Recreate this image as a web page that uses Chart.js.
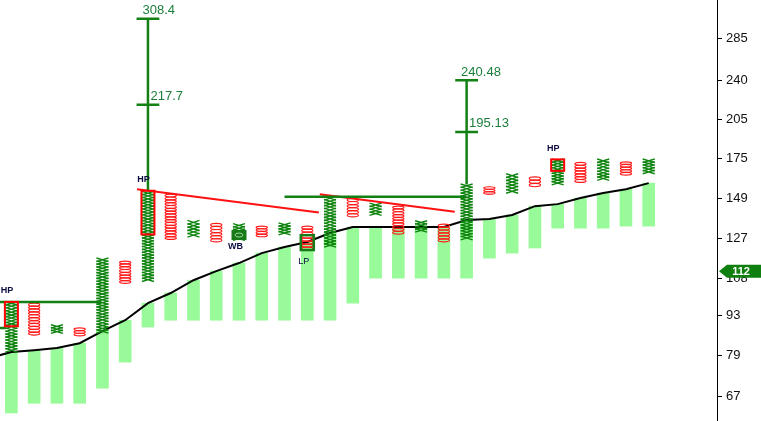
<!DOCTYPE html>
<html>
<head>
<meta charset="utf-8">
<script src="https://cdn.jsdelivr.net/npm/chart.js@4.4.1/dist/chart.umd.min.js"></script>
<style>
html, body { margin: 0; padding: 0; background: #fff; }
#wrap { width: 761px; height: 421px; position: relative; }
</style>
</head>
<body>
<div id="wrap"><canvas id="pnf-chart"></canvas></div>
<script>
// point & figure columns, one per x index
const colType = ['X','O','X','O','X','O','X','O','X','O','X','O','X','O','X','O','X','O','X','O','X','O','X','O','X','O','X','O','X'];
const colLow  = [80.2, 85.8, 86.5, 85.5, 86.6, 105.7, 106.7, 126.3, 127.7, 125.1, 126.0, 127.7, 128.9, 121.0, 122.6,
                 138.4, 139.4, 129.1, 130.3, 125.1, 126.3, 151.7, 152.5, 156.3, 157.8, 159.1, 160.6, 163.9, 165.0];
const colHigh = [98.1, 97.6, 89.3, 88.3, 117.0, 115.7, 153.2, 151.7, 136.2, 134.8, 134.4, 133.3, 134.8, 133.3, 150.1,
                 149.1, 146.1, 144.5, 136.0, 134.4, 157.8, 156.3, 164.5, 162.7, 174.6, 172.5, 174.6, 172.9, 174.6];

// light green band under the columns, black line follows its top
const bandLow  = [62.6, 65.1, 65.1, 65.1, 69.2, 76.9, 88.6, 91.1, 91.1, 91.1, 91.1, 91.1, 91.1, 91.1, 91.1,
                  97.6, 108, 108, 108, 108, 108, 117.1, 119.5, 122.0, 132.2, 132.2, 132.2, 133.3, 133.3];
const bandHigh = [80.1, 80.7, 81.4, 83.0, 87.2, 91.1, 97.6, 101.7, 107.1, 111.1, 114.8, 119.5, 122.5, 125.0, 129.6,
                  132.8, 132.8, 132.8, 132.8, 132.8, 136.6, 137.2, 139.4, 144.5, 145.7, 149.3, 152.4, 154.8, 158.6];
const bandPrev = 78.1; // value of the line one column before the first shown

const tickVals = [67, 79, 93, 108, 127, 149, 175, 205, 240, 285];
const lastPrice = 112;

// price targets
const targetCols = [6, 20];
const targetBase = [153.8, 157.8];
const targetTop  = [308.4, 240.48];
const targetMid  = [217.7, 195.13];

// trend lines [x1, y1, x2, y2] in column index / price
const redTrends   = [[5.52, 154.7, 13.51, 140.9], [13.55, 151.6, 19.48, 141.3]];
const greenLevels = [[-0.6, 98.1, 3.95, 98.1], [-0.6, 88.3, -0.25, 88.3], [12.0, 150.1, 20.0, 150.1]];

// pattern markers
const markCols = [0, 6, 24, 10, 13];
const markType = ['HP', 'HP', 'HP', 'WB', 'LP'];
const markLow  = [88.9, 128.9, 166.7, 126.0, 121.0];
const markHigh = [98.1, 153.8, 174.6, 131.2, 128.5];

const PITCH = 2.9;
const GREEN = '#138013';

function segments(list) {
	var out = [];
	list.forEach(function (s) {
		out.push({x: s[0], y: s[1]}, {x: s[2], y: s[3]}, {x: s[2], y: null});
	});
	return out;
}

function targetData() {
	var out = [];
	targetCols.forEach(function (c, i) {
		out.push({x: c, y: targetBase[i]}, {x: c, y: targetTop[i]}, {x: c, y: null});
		out.push({x: c - 0.5, y: targetTop[i]}, {x: c + 0.5, y: targetTop[i]}, {x: c, y: null});
		out.push({x: c - 0.5, y: targetMid[i]}, {x: c + 0.5, y: targetMid[i]}, {x: c, y: null});
	});
	return out;
}

var xCols = [], oCols = [];
colType.forEach(function (t, i) {
	var p = {x: i, y: [colLow[i], colHigh[i]]};
	if (t == 'X') xCols.push(p); else oCols.push(p);
});

var lineData = [{x: -1, y: bandPrev}].concat(bandHigh.map(function (v, i) { return {x: i, y: v}; }));

var pnfPlugin = {
	id: 'pnf',
	afterDatasetDraw: function (chart, args) {
		var ds = chart.data.datasets[args.index];
		if (!ds.glyph) return;
		var ctx = chart.ctx, area = chart.chartArea;
		ctx.save();
		ctx.beginPath();
		ctx.rect(area.left, area.top, area.right - area.left, area.bottom - area.top);
		ctx.clip();
		args.meta.data.forEach(function (el) {
			var top = Math.min(el.y, el.base), bot = Math.max(el.y, el.base);
			var n = Math.max(1, Math.round((bot - top) / PITCH));
			var step = (bot - top) / n;
			for (var k = 0; k < n; k++) {
				var y0 = top + step * k, y1 = y0 + step;
				ctx.beginPath();
				if (ds.glyph == 'X') {
					ctx.strokeStyle = '#0f840f';
					ctx.lineWidth = 1.4;
					ctx.moveTo(el.x - 6, y0 - 0.4); ctx.lineTo(el.x + 6, y1 + 0.4);
					ctx.moveTo(el.x + 6, y0 - 0.4); ctx.lineTo(el.x - 6, y1 + 0.4);
				} else {
					ctx.strokeStyle = '#ff1a1a';
					ctx.lineWidth = 1.2;
					ctx.ellipse(el.x, (y0 + y1) / 2, 5.6, Math.max(0.9, step / 2), 0, 0, Math.PI * 2);
				}
				ctx.stroke();
			}
		});
		ctx.restore();
	},
	afterDatasetsDraw: function (chart) {
		var ctx = chart.ctx, xs = chart.scales.x, ys = chart.scales.y;
		ctx.save();
		markCols.forEach(function (c, i) {
			var cx = xs.getPixelForValue(c);
			var top = ys.getPixelForValue(markHigh[i]), bot = ys.getPixelForValue(markLow[i]);
			ctx.textAlign = 'center';
			ctx.textBaseline = 'middle';
			if (markType[i] == 'HP') {
				ctx.strokeStyle = '#ff0000';
				ctx.lineWidth = 2;
				ctx.strokeRect(cx - 6.5, top, 13, bot - top);
				ctx.fillStyle = '#0a0a40';
				ctx.font = 'bold 9px "Liberation Sans", Arial, sans-serif';
				ctx.fillText('HP', cx - 4.5, top - 11);
			} else if (markType[i] == 'WB') {
				ctx.fillStyle = '#177a17';
				ctx.fillRect(cx - 7.5, top, 15, bot - top);
				ctx.strokeStyle = '#9ad49a';
				ctx.lineWidth = 1;
				ctx.beginPath();
				ctx.ellipse(cx, (top + bot) / 2, 4, 2, 0, 0, Math.PI * 2);
				ctx.stroke();
				ctx.fillStyle = '#0a0a40';
				ctx.font = 'bold 9px "Liberation Sans", Arial, sans-serif';
				ctx.fillText('WB', cx - 3.5, bot + 6);
			} else {
				ctx.strokeStyle = '#177a17';
				ctx.lineWidth = 2.5;
				ctx.strokeRect(cx - 6.5, top, 13, bot - top);
				ctx.fillStyle = '#0a0a40';
				ctx.font = '9px "Liberation Sans", Arial, sans-serif';
				ctx.fillText('LP', cx - 3.5, bot + 11);
			}
		});
		// target labels
		ctx.fillStyle = '#1b7f3b';
		ctx.font = '13px "Liberation Sans", Arial, sans-serif';
		ctx.textAlign = 'left';
		ctx.textBaseline = 'middle';
		targetCols.forEach(function (c, i) {
			var cx = xs.getPixelForValue(c);
			ctx.fillText(String(targetTop[i]), cx - 5.5, ys.getPixelForValue(targetTop[i]) - 8);
			ctx.fillText(String(targetMid[i]), cx + 2.5, ys.getPixelForValue(targetMid[i]) - 8);
		});
		ctx.restore();
	},
	afterDraw: function (chart) {
		var ctx = chart.ctx, ys = chart.scales.y;
		var c = ys.getPixelForValue(lastPrice) + 2;
		var l = ys.left + 2, r = chart.width;
		ctx.save();
		ctx.fillStyle = '#0f7f0f';
		ctx.beginPath();
		ctx.moveTo(l, c);
		ctx.lineTo(l + 8, c - 6.5);
		ctx.lineTo(r, c - 6.5);
		ctx.lineTo(r, c + 6.5);
		ctx.lineTo(l + 8, c + 6.5);
		ctx.closePath();
		ctx.fill();
		ctx.fillStyle = '#ffffff';
		ctx.font = 'bold 11px "Liberation Sans", Arial, sans-serif';
		ctx.textAlign = 'center';
		ctx.textBaseline = 'middle';
		ctx.fillText(String(lastPrice), l + 22, c + 0.5);
		ctx.restore();
	}
};

new Chart(document.getElementById('pnf-chart'), {
	type: 'bar',
	data: {
		datasets: [
			{ type: 'bar', data: bandLow.map(function (lo, i) { return {x: i, y: [lo, bandHigh[i]]}; }),
			  backgroundColor: '#99fa99', borderWidth: 0, barThickness: 12, grouped: false, order: 6 },
			{ type: 'line', data: lineData, borderColor: '#000000', borderWidth: 2, pointRadius: 0,
			  tension: 0, order: 5 },
			{ type: 'bar', data: xCols, glyph: 'X', backgroundColor: 'rgba(0,0,0,0)', borderWidth: 0,
			  barThickness: 12, grouped: false, order: 4 },
			{ type: 'bar', data: oCols, glyph: 'O', backgroundColor: 'rgba(0,0,0,0)', borderWidth: 0,
			  barThickness: 12, grouped: false, order: 3 },
			{ type: 'line', data: segments(greenLevels), borderColor: GREEN, borderWidth: 2.5, pointRadius: 0,
			  spanGaps: false, order: 2 },
			{ type: 'line', data: segments(redTrends), borderColor: '#ff1111', borderWidth: 2, pointRadius: 0,
			  spanGaps: false, order: 2 },
			{ type: 'line', data: targetData(), borderColor: GREEN, borderWidth: 2.5, pointRadius: 0,
			  spanGaps: false, order: 1 }
		]
	},
	options: {
		responsive: true,
		maintainAspectRatio: false,
		animation: false,
		devicePixelRatio: 1,
		layout: { padding: 0 },
		plugins: {
			legend: { display: false },
			tooltip: { enabled: false }
		},
		scales: {
			x: { type: 'linear', min: -0.5, max: 31, offset: false, display: false },
			y: {
				type: 'logarithmic',
				position: 'right',
				min: 60.6,
				max: 332.7,
				afterBuildTicks: function (scale) {
					scale.ticks = tickVals.map(function (v) { return {value: v}; });
				},
				afterFit: function (scale) {
					scale.width = 44;
					scale.paddingTop = 0;
					scale.paddingBottom = 0;
				},
				ticks: {
					callback: function (v) { return String(v); },
					color: '#111111',
					padding: 4,
					font: { family: '"Liberation Sans", Arial, sans-serif', size: 13 }
				},
				grid: { drawOnChartArea: false, tickLength: 5, color: '#000000', tickColor: '#000000' },
				border: { display: true, color: '#000000', width: 1, dash: [1, 2] }
			}
		}
	},
	plugins: [pnfPlugin]
});
</script>
</body>
</html>
